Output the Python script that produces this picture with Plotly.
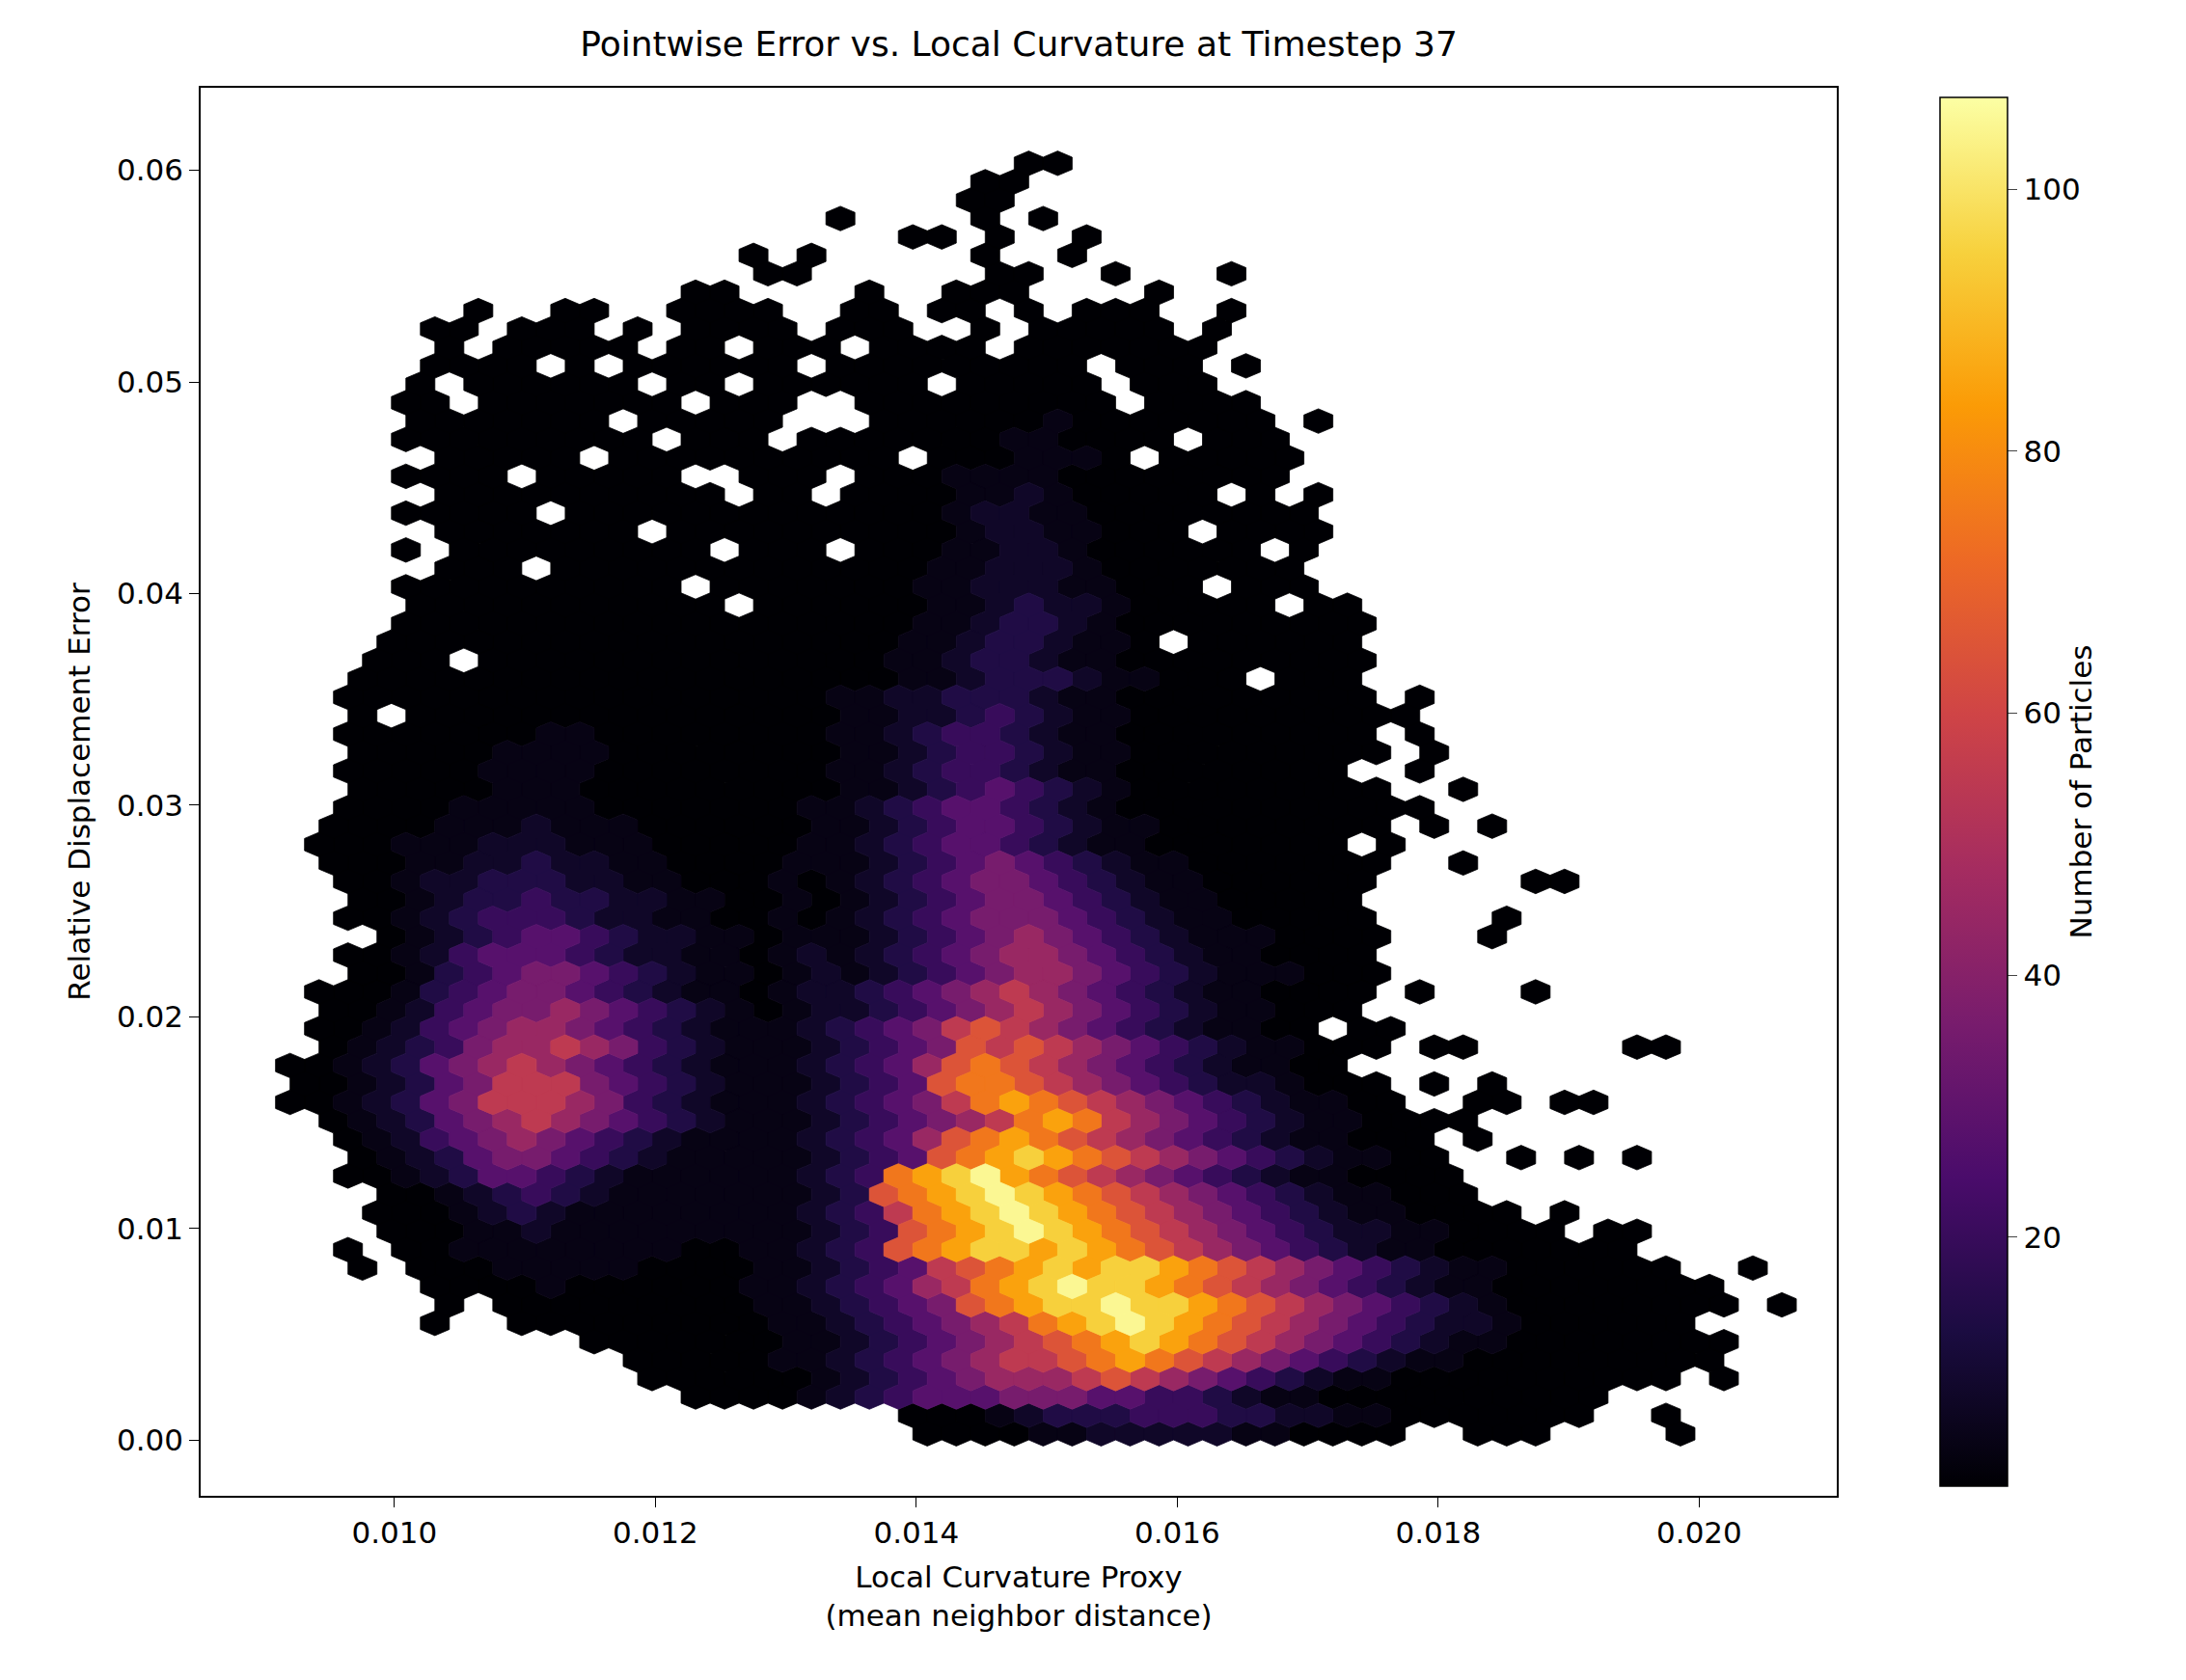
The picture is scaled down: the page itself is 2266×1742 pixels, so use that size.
import plotly.graph_objects as go
from plotly.colors import sample_colorscale

# hexbin lattice
X0 = 0.0092        # x of column 0 on even rows
DX = 0.000222      # hex width
Y0 = 0.0003        # y of row 0
DY = 0.00087       # half-row spacing

# count level codes -> particle counts
LEVELS = {'1': 1, '2': 4, '3': 8, '4': 14, '5': 20, '6': 28, '7': 36, '8': 45,
          '9': 55, 'a': 65, 'b': 75, 'c': 85, 'd': 95, 'e': 105}

# rows from top (row 69) down to row 0; '.' = empty cell
ROWS = [
    ".........................11",
    "........................11",
    ".......................11",
    "...................1....1.1",
    ".....................11.1..1",
    "................1.1.....1..1",
    "................11......11..1...1",
    "..............11....1..111....1",
    "......1..11..1111..11.11.1.111..1",
    ".....11.111.1.1111.111..1.11111.1",
    ".....1.11111.11.111.1111.1111111",
    ".....1111.1.111111.111111111.111.1",
    "....1.111111.11.111111.11111.111",
    "....11.1111111.111..111111111.1111",
    "....1111111.11111...11111121111111.1",
    "....111111111.111.1111111221111.111",
    ".....11111.1111111111.1112221.11111",
    "....1111.11111..111.111222211111111",
    ".....1111111111.11.1111223211111.1.1",
    "....11111.11111111111112332211111111",
    ".....1111111.111111111123322111.1111",
    "....1.111111111.111.11122332111111.1",
    ".....111.11111111111112233321111111",
    "....1111111111.11111112233322111.111",
    "....11111111111.111111223433211111.11",
    "....1111111111111111112234432111111111",
    "...111111111111111111223443221.111111",
    "...111.1111111111111122344322111111111",
    "..1111111111211111111223444322111.111",
    "..111111112221111112233444322111111111.1",
    "..1.11111222211111122334543221111111111",
    "..111111222222211112234554322111111111.1",
    "..111112222232211112234554322111111111.1",
    "..11111223333221111223455432211111111..1",
    "..111122334333221112234565432111111111..1",
    "..11122334443322112234566543211111111111",
    ".1111223444443221122345665432211111111.1.1",
    ".111122344544322112234566543221111111.1",
    ".1112233455543321122345676543221111111..1",
    "..111223455554332112345677654322111111.....11",
    "..11222345665543221234567765432211111",
    "..112233456665543212345677765432211111....1",
    "...12233456766543322345678765432221111...1",
    "..112233456776654332345678876543221111",
    "..112234567776654332345678876543222111",
    ".1112234567877654333456789876543221111.1...1",
    ".112234567887765433345678987654322111",
    ".11223456788876543345679a98765432211.11",
    ".1122345678987654334567a9a987654322111.11.....11",
    "11122345678987654334568aba98765432211",
    "1112234567898765433456abba987654332111.1.1",
    "111223456789876544345679bcba98765432211..11.11",
    ".112234567887765433456789bcb9876543221111",
    "..112234567876654334568abcba987654322111.1",
    "..11223456776654333456abcdcba98765432211..1.1.1",
    "..1112234566554332345bcdecba9876543221111",
    "...11223455544332234abcdedcba987654322111",
    "...1112234443322223459bcdedcba9876543221111.1",
    "...111223333222222345abcdedcba98765433221111.11",
    "..1.11222222221122345abcddcdcba9876543221111111",
    "..1.1112222211112234569abcdcddcba987654322111111..1",
    ".....1111211111122345689bcdeddcba98765432211111111",
    ".....1.1111111112234567abcddeddcba9876543211111111.1",
    ".....1..111111111223456789bcdedcba987654332111111",
    "..........1111111223456789abcdcba98765432211111111",
    "............111112234567899abcba987654322111111111",
    "............1111112345678889a9876543221111111111.1",
    "..............11112345666777665543221111111111",
    ".....................111234445554433221111111..1",
    "......................11112233333221111..111....1",
]

# left lobe, first 18 cells of rows 41..11 (replaces those cells in ROWS)
LEFT_LOBE = {
    41: "..1111111111111111",
    40: "..1111111111111111",
    39: "..1.11111111111111",
    38: "..1111111221111111",
    37: "..1111122221111111",
    36: "..1111122221111111",
    35: "..1111122211111111",
    34: "..1111222221111111",
    33: ".11112223222111111",
    32: ".11122233322211111",
    31: ".11122334332211112",
    30: "..1123344433221112",
    29: "..1123445443322112",
    28: "..1123455543322112",
    27: "...123456654332212",
    26: "..1123566654332212",
    25: "..1124567765432212",
    24: ".11124567765432212",
    23: ".11235677876543212",
    22: ".11235678876543222",
    21: ".12345788987543222",
    20: "112346789876543222",
    19: "112346799976543222",
    18: "112346799987543222",
    17: ".12346789876543222",
    16: "..1235678765432222",
    15: "..1234677654322222",
    14: "..1123466543222222",
    13: "...112345432222222",
    12: "...111234322222222",
    11: "...111223222222222",
}

X_TICKS = [0.010, 0.012, 0.014, 0.016, 0.018, 0.020]
Y_TICKS = [0.00, 0.01, 0.02, 0.03, 0.04, 0.05, 0.06]
CB_TICKS = [20, 40, 60, 80, 100]
CMIN, CMAX = 1, 107

# hexagon outline, matplotlib style (pointy top)
SY = 2 * DY
HEX = [(0.5, -0.5), (0.5, 0.5), (0, 1), (-0.5, 0.5), (-0.5, -0.5), (0, -1), (0.5, -0.5)]

polys = {k: ([], []) for k in LEVELS}
n_rows = len(ROWS)
for i, row in enumerate(ROWS):
    r = n_rows - 1 - i
    if r in LEFT_LOBE:
        row = LEFT_LOBE[r] + row[len(LEFT_LOBE[r]):]
    cy = Y0 + r * DY
    shift = DX / 2 if r % 2 else 0.0
    for c, ch in enumerate(row):
        if ch not in LEVELS:
            continue
        cx = X0 + c * DX + shift
        xs, ys = polys[ch]
        for hx, hy in HEX:
            xs.append(cx + hx * DX)
            ys.append(cy + hy * SY / 3)
        xs.append(None)
        ys.append(None)

fig = go.Figure()
for ch, (xs, ys) in polys.items():
    if not xs:
        continue
    t = (LEVELS[ch] - CMIN) / (CMAX - CMIN)
    col = sample_colorscale("Inferno", [t])[0]
    fig.add_trace(go.Scatter(x=xs, y=ys, mode="lines", fill="toself",
                             fillcolor=col, line=dict(color=col, width=0.8),
                             hoverinfo="skip", showlegend=False))

# colorbar
fig.add_trace(go.Scatter(
    x=[None], y=[None], mode="markers", showlegend=False,
    marker=dict(color=[CMIN, CMAX], cmin=CMIN, cmax=CMAX, colorscale="Inferno",
                showscale=True,
                colorbar=dict(x=1.057, xanchor="left", y=0.5, len=1.0, lenmode="fraction",
                              thickness=70, outlinecolor="black", outlinewidth=1.5,
                              tickvals=CB_TICKS, ticks="outside", ticklen=10,
                              tickfont=dict(size=31, color="black"),
                              title=dict(text="Number of Particles", side="right",
                                         font=dict(size=31, color="black"))))))

axis_common = dict(showgrid=False, zeroline=False, showline=True, linecolor="black",
                   linewidth=1.5, mirror=True, ticks="outside", ticklen=10,
                   tickcolor="black", tickfont=dict(size=31, color="black"))

fig.update_layout(
    width=2266, height=1742,
    margin=dict(l=200, r=370, t=83, b=199),
    paper_bgcolor="white", plot_bgcolor="white",
    font=dict(family="DejaVu Sans", color="black"),
    title=dict(text="Pointwise Error vs. Local Curvature at Timestep 37",
               x=0.5 * (200 + 1896) / 2266, xanchor="center", y=0.986, yanchor="top",
               font=dict(size=36)),
    xaxis=dict(range=[0.008515, 0.021054], tickvals=X_TICKS, tickformat=".3f",
               title=dict(text="Local Curvature Proxy<br>(mean neighbor distance)",
                          font=dict(size=31), standoff=18), **axis_common),
    yaxis=dict(range=[-0.00263, 0.0639], tickvals=Y_TICKS, tickformat=".2f",
               title=dict(text="Relative Displacement Error", font=dict(size=31),
                          standoff=18), **axis_common),
)

fig.write_html("out.html")
